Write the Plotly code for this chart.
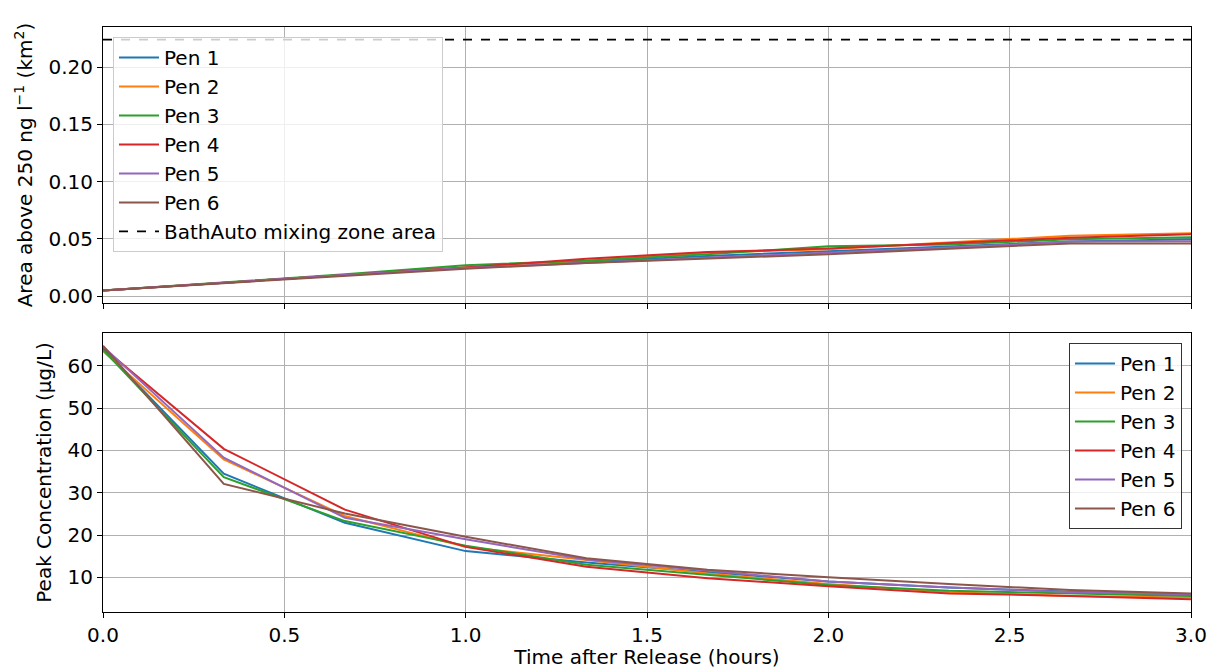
import plotly.graph_objects as go

# ---- data ----
time_hours = [0.0, 0.333, 0.667, 1.0, 1.333, 1.667, 2.0, 2.333, 2.667, 3.0]
pen_names = ["Pen 1", "Pen 2", "Pen 3", "Pen 4", "Pen 5", "Pen 6"]

area_pen1 = [0.005, 0.0115, 0.018, 0.025, 0.030, 0.035, 0.0393, 0.0436, 0.0476, 0.0496]
area_pen2 = [0.005, 0.0118, 0.0185, 0.025, 0.031, 0.038, 0.041, 0.047, 0.0528, 0.055]
area_pen3 = [0.005, 0.012, 0.019, 0.027, 0.031, 0.0365, 0.0436, 0.045, 0.0496, 0.0515]
area_pen4 = [0.005, 0.0115, 0.0185, 0.025, 0.0327, 0.0385, 0.0416, 0.046, 0.051, 0.054]
area_pen5 = [0.005, 0.012, 0.0185, 0.0245, 0.029, 0.034, 0.0379, 0.0425, 0.0476, 0.048]
area_pen6 = [0.005, 0.0112, 0.018, 0.024, 0.029, 0.033, 0.0365, 0.0414, 0.046, 0.046]

conc_pen1 = [64.0, 34.5, 22.9, 16.2, 13.5, 11.2, 9.0, 7.6, 6.6, 5.8]
conc_pen2 = [63.5, 37.9, 24.5, 17.2, 14.1, 10.9, 8.4, 6.5, 5.6, 5.2]
conc_pen3 = [63.8, 33.7, 23.3, 17.5, 13.0, 10.6, 8.2, 6.8, 6.2, 5.6]
conc_pen4 = [64.3, 40.4, 26.0, 17.2, 12.5, 9.8, 7.9, 6.2, 5.6, 4.8]
conc_pen5 = [64.6, 38.3, 24.1, 19.0, 14.2, 11.6, 9.0, 7.6, 6.5, 6.0]
conc_pen6 = [64.8, 32.1, 25.1, 19.6, 14.5, 11.8, 10.0, 8.4, 7.0, 6.2]

mixing_zone_area = 0.224
mixing_zone_x = [0.0, 3.0]

x_tick_vals = [0.0, 0.5, 1.0, 1.5, 2.0, 2.5, 3.0]
top_tick_vals = [0.0, 0.05, 0.10, 0.15, 0.20]
bottom_tick_vals = [10, 20, 30, 40, 50, 60]

colors = ["#1f77b4", "#ff7f0e", "#2ca02c", "#d62728", "#9467bd", "#8c564b"]
area_series = [area_pen1, area_pen2, area_pen3, area_pen4, area_pen5, area_pen6]
conc_series = [conc_pen1, conc_pen2, conc_pen3, conc_pen4, conc_pen5, conc_pen6]

FONT = "DejaVu Sans"
FS = 20

fig = go.Figure()

for name, ys, c in zip(pen_names, area_series, colors):
    fig.add_trace(go.Scatter(x=time_hours, y=ys, mode="lines", name=name,
                             line=dict(color=c, width=2), xaxis="x", yaxis="y",
                             legend="legend"))
fig.add_trace(go.Scatter(x=mixing_zone_x, y=[mixing_zone_area, mixing_zone_area],
                         mode="lines", name="BathAuto mixing zone area",
                         line=dict(color="black", width=1.8, dash="dash"),
                         xaxis="x", yaxis="y", legend="legend"))

for name, ys, c in zip(pen_names, conc_series, colors):
    fig.add_trace(go.Scatter(x=time_hours, y=ys, mode="lines", name=name,
                             line=dict(color=c, width=2), xaxis="x2", yaxis="y2",
                             legend="legend2"))

axis_common = dict(showline=True, linecolor="black", linewidth=1, mirror=True,
                   ticks="outside", ticklen=5, tickcolor="black",
                   showgrid=True, gridcolor="#b0b0b0", gridwidth=1,
                   zeroline=False, automargin=False,
                   tickfont=dict(family=FONT, size=FS, color="black"))

# page body has an 8px default margin, so the figure is offset by 8px
fig.update_layout(
    width=1209, height=661,
    margin=dict(l=95, r=26, t=19, b=57),
    paper_bgcolor="white", plot_bgcolor="white",
    font=dict(family=FONT, size=FS, color="black"),
    xaxis=dict(domain=[0, 1], range=[0, 3], tickvals=x_tick_vals, showticklabels=False,
               anchor="y", matches="x2", **axis_common),
    yaxis=dict(domain=[0.528, 1], range=[-0.0061, 0.235], tickvals=top_tick_vals,
               tickformat=".2f", anchor="x",
               title=dict(text="Area above 250 ng l<sup>\u22121</sup> (km<sup>2</sup>)",
                          font=dict(family=FONT, size=FS), standoff=10),
               **axis_common),
    xaxis2=dict(domain=[0, 1], range=[0, 3], tickvals=x_tick_vals, tickformat=".1f",
                anchor="y2",
                title=dict(text="Time after Release (hours)", font=dict(family=FONT, size=FS),
                           standoff=4),
                **axis_common),
    yaxis2=dict(domain=[0, 0.477], range=[1.8, 67.8], tickvals=bottom_tick_vals,
                anchor="x2",
                title=dict(text="Peak Concentration (\u00b5g/L)", font=dict(family=FONT, size=FS),
                           standoff=10),
                **axis_common),
    legend=dict(x=0.0092, y=0.983, xanchor="left", yanchor="top",
                bgcolor="rgba(255,255,255,0.8)", bordercolor="#cccccc", borderwidth=1,
                font=dict(family=FONT, size=FS), tracegroupgap=0, itemwidth=40),
    legend2=dict(x=0.9917, y=0.46, xanchor="right", yanchor="top",
                 bgcolor="rgba(255,255,255,0.8)", bordercolor="#333333", borderwidth=1,
                 font=dict(family=FONT, size=FS), tracegroupgap=0, itemwidth=40),
    showlegend=True,
)

fig.write_html("out.html")
